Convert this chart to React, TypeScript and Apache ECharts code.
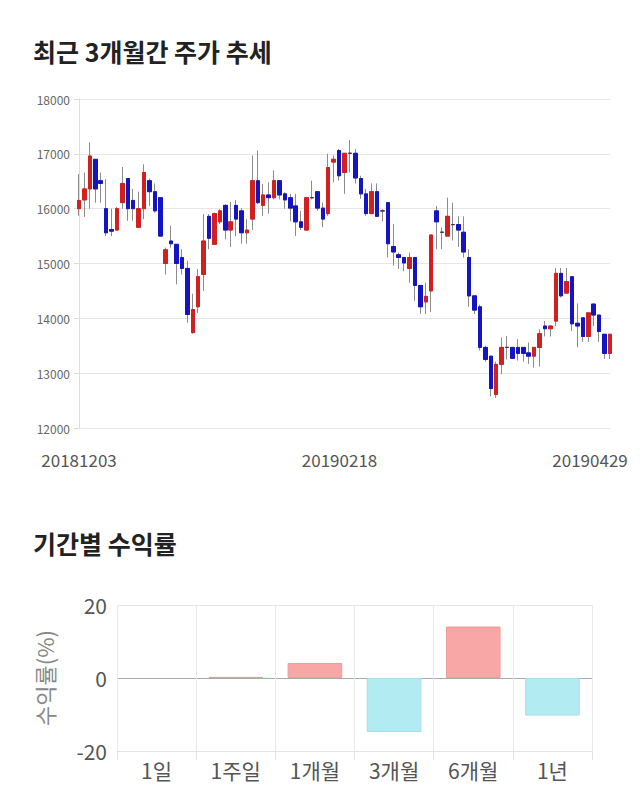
import React, { useEffect, useRef } from 'react';
import * as echarts from 'echarts';

const dates = [
  '20181203','20181204','20181205','20181206','20181207','20181210','20181211','20181212','20181213','20181214',
  '20181217','20181218','20181219','20181220','20181221','20181224','20181226','20181227','20181228',
  '20190102','20190103','20190104','20190107','20190108','20190109','20190110','20190111','20190114','20190115',
  '20190116','20190117','20190118','20190121','20190122','20190123','20190124','20190125','20190128','20190129',
  '20190130','20190131',
  '20190201','20190207','20190208','20190211','20190212','20190213','20190214','20190215','20190218','20190219',
  '20190220','20190221','20190222','20190225','20190226','20190227','20190228',
  '20190304','20190305','20190306','20190307','20190308','20190311','20190312','20190313','20190314','20190315',
  '20190318','20190319','20190320','20190321','20190322','20190325','20190326','20190327','20190328','20190329',
  '20190401','20190402','20190403','20190404','20190405','20190408','20190409','20190410','20190411','20190412',
  '20190415','20190416','20190417','20190418','20190419','20190422','20190423','20190424','20190425','20190426',
  '20190429',
];

const opens = [
  16000,16160,16360,16900,16510,16000,15620,15610,16110,16550,
  16150,15660,16000,16510,16310,16200,15000,15410,15350,15110,
  14910,13740,14210,14800,15860,15350,15760,16060,15610,16060,
  15960,15560,15810,16510,16060,16250,16200,16510,16270,16200,
  16050,15760,15610,16200,16310,16010,15910,16850,17060,16660,
  17010,17010,16550,16270,15910,16310,15960,16110,15310,15160,
  15110,14910,15110,14600,14300,14500,15960,15570,15500,15710,
  15710,15570,15110,14410,14210,13470,13310,12610,13160,13470,
  13470,13470,13470,13370,13310,13470,13860,13810,13950,14820,
  14460,14760,13910,14010,13670,14260,14060,13710,13360,
];
const closes = [
  16150,16360,16960,16360,16460,15560,15590,16000,16460,16000,
  16000,16000,16660,16310,15960,15500,15250,15360,15000,14910,
  14070,14160,14760,15410,15460,15910,15960,15610,15760,15810,
  15560,15610,16510,16110,16250,16200,16510,16250,16160,16010,
  15760,15660,16200,16200,16010,15810,16750,16900,16600,17010,
  17010,16560,16270,15910,16310,15860,15960,15360,15210,15110,
  15010,15110,14600,14210,14400,15520,15760,15570,15860,15710,
  15610,15210,14410,14150,13470,13250,12720,13160,13470,13470,
  13270,13360,13360,13310,13470,13720,13810,13860,14820,14410,
  14670,13900,13860,13670,14100,14060,13760,13360,13710,
];
const lows = [
  15870,15850,16000,16110,16110,15500,15500,15600,16000,15780,
  15780,15660,15810,16050,15930,15500,14800,15290,14620,14800,
  13920,13720,14100,14500,15260,15350,15720,15440,15300,15500,
  15360,15360,15610,16080,15870,15910,16170,16170,16000,15770,
  15500,15610,15600,16170,15960,15660,15870,16480,16510,16270,
  16660,16460,16180,15870,15900,15860,15770,15110,14960,14900,
  14860,14650,14320,14080,14080,14120,15260,15260,15500,15420,
  15300,15110,14210,14080,13410,13210,12580,12550,12980,13250,
  13270,13230,13210,13170,13100,13120,13670,13670,13860,14380,
  14460,13770,13470,13570,13570,13860,13570,13260,13260,
];
const highs = [
  16630,16660,17210,16900,16660,16540,16000,16030,16760,16550,
  16360,16310,16810,16550,16460,16200,15290,15690,15350,15260,
  15050,14450,14900,15900,15900,15930,15990,16080,16120,16160,
  16010,15810,16970,17060,16450,16480,16700,16510,16300,16270,
  16270,15960,16200,16510,16310,16110,17000,16970,17090,17010,
  17250,17090,16600,16360,16460,16460,15990,16110,15720,15200,
  15120,15200,15110,14600,14650,15520,16050,15660,16200,16110,
  15860,15860,15260,14410,14250,13500,13310,13210,13650,13680,
  13470,13620,13470,13560,13470,13800,13950,13860,14920,14920,
  14920,14760,14270,14010,14100,14260,14060,13710,13710,
];

const dateLabelIdx = [0, 49, 98];
const priceTicks = { min: 12000, max: 18000, step: 1000 };

const periods = ['1일', '1주일', '1개월', '3개월', '6개월', '1년'];
const returns = [0, 0.3, 4.1, -14.8, 14.1, -10.3];
const returnTicks = { min: -20, max: 20, step: 20 };

const FONT = '"Noto Sans CJK KR", "Noto Sans", sans-serif';
const UP = '#d21f1f';
const DOWN = '#1414c2';

export default function App() {
  const ref = useRef<HTMLDivElement>(null);
  useEffect(() => {
    if (!ref.current) return;
    const chart = echarts.init(ref.current, undefined, { renderer: 'svg' });
    const full = dates.map((_, i) => [opens[i], closes[i], lows[i], highs[i]]);
    const bodies = dates.map((_, i) => [
      opens[i], closes[i], Math.min(opens[i], closes[i]), Math.max(opens[i], closes[i]),
    ]);
    const option: any = {
      animation: false,
      textStyle: { fontFamily: FONT },
      title: [
        { text: '최근 3개월간 주가 추세', left: 28, top: 33, textStyle: { fontSize: 25, fontWeight: 'bold', color: '#222', fontFamily: FONT } },
        { text: '기간별 수익률', left: 28, top: 525, textStyle: { fontSize: 25, fontWeight: 'bold', color: '#222', fontFamily: FONT } },
      ],
      grid: [
        { left: 79, right: 30, top: 99, height: 329 },
        { left: 117, right: 48, top: 605, height: 146 },
      ],
      xAxis: [
        {
          type: 'category', gridIndex: 0, data: dates, boundaryGap: false,
          axisLine: { show: false }, axisTick: { show: false }, splitLine: { show: false },
          axisLabel: {
            interval: (i: number) => dateLabelIdx.includes(i),
            formatter: (v: string, i: number) => (i === 98 ? `{l|${v}}` : i === 49 ? `{m|${v}}` : `{f|${v}}`),
            margin: 23,
            rich: {
              f: { fontSize: 17, color: '#555', fontFamily: FONT },
              m: { fontSize: 17, color: '#555', fontFamily: FONT, padding: [0, 10, 0, 0] },
              l: { fontSize: 17, color: '#555', fontFamily: FONT, padding: [0, 40, 0, 0] },
            },
          },
        },
        {
          type: 'category', gridIndex: 1, data: periods,
          axisLine: { onZero: false, lineStyle: { color: '#e3e3e3' } },
          axisTick: { show: true, length: 9, lineStyle: { color: '#e3e3e3' } },
          splitLine: { show: true, lineStyle: { color: '#e8e8e8' } },
          axisLabel: { fontSize: 21, color: '#555', margin: 8, fontFamily: FONT },
        },
      ],
      yAxis: [
        {
          type: 'value', gridIndex: 0, min: priceTicks.min, max: priceTicks.max, interval: priceTicks.step,
          axisLine: { show: true, lineStyle: { color: '#dddddd' } },
          axisTick: { show: true, length: 5, lineStyle: { color: '#dddddd' } },
          splitLine: { show: true, lineStyle: { color: '#e6e6e6' } },
          axisLabel: { fontSize: 12, color: '#666', margin: 9, fontFamily: FONT, formatter: (v: number) => String(v) },
        },
        {
          type: 'value', gridIndex: 1, min: returnTicks.min, max: returnTicks.max, interval: returnTicks.step,
          axisLine: { show: false }, axisTick: { show: false },
          splitLine: { show: true, lineStyle: { color: ['#e6e6e6', '#aaaaaa', '#e6e6e6'] } },
          axisLabel: { fontSize: 21, color: '#555', margin: 10, fontFamily: FONT },
          name: '수익률(%)', nameLocation: 'middle', nameRotate: 90, nameGap: 62,
          nameTextStyle: { fontSize: 22, color: '#888', fontFamily: FONT },
        },
      ],
      series: [
        {
          type: 'candlestick', xAxisIndex: 0, yAxisIndex: 0, data: full, barWidth: 4,
          itemStyle: {
            color: 'transparent', color0: 'transparent',
            borderColor: '#8c8c8c', borderColor0: '#8c8c8c', borderColorDoji: '#8c8c8c', borderWidth: 1,
          },
        },
        {
          type: 'candlestick', xAxisIndex: 0, yAxisIndex: 0, data: bodies, barWidth: 4,
          itemStyle: {
            color: UP, color0: DOWN, borderColor: UP, borderColor0: DOWN, borderColorDoji: '#333', borderWidth: 1,
          },
        },
        {
          type: 'bar', xAxisIndex: 1, yAxisIndex: 1, barWidth: '69%',
          data: returns.map((v) => ({
            value: v,
            itemStyle: v === 0
              ? { color: 'transparent', borderWidth: 0 }
              : v > 0
              ? { color: '#f8a6a6', borderColor: '#f09a9a', borderWidth: 1 }
              : { color: '#b3ebf3', borderColor: '#a5dfe8', borderWidth: 1 },
          })),
        },
      ],
    };
    chart.setOption(option);
    return () => chart.dispose();
  }, []);
  return <div ref={ref} style={{ position: 'absolute', left: 0, top: 0, width: 640, height: 810 }} />;
}
